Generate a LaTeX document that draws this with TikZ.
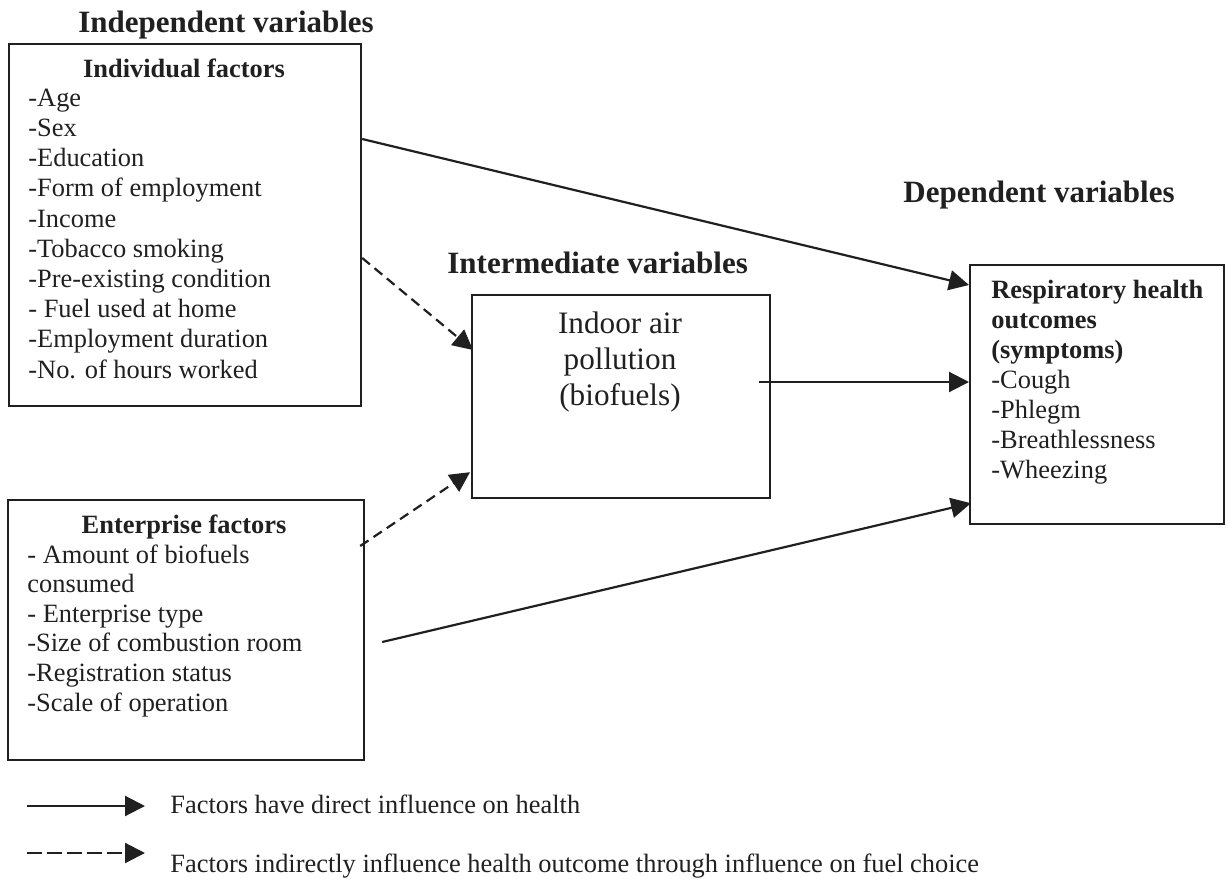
\documentclass[tikz,border=0pt]{standalone}
\usepackage{fontspec}
\setmainfont{Liberation Serif}
\usetikzlibrary{arrows.meta,calc}
\definecolor{ink}{HTML}{202020}
\begin{document}
\begin{tikzpicture}[x=0.5pt,y=-0.5pt,
  box/.style={draw=ink,line width=1.1pt,inner sep=0pt,anchor=north west},
  body/.style={font=\fontsize{13.2}{15.1}\selectfont,text=ink,inner sep=0pt,align=left,anchor=base west},
  head/.style={font=\fontsize{15.5}{18}\selectfont\bfseries,text=ink,inner sep=0pt,anchor=base west},
  conn/.style={draw=ink,line width=1.1pt,-{Triangle[length=10pt,width=10pt]}},
  indirect/.style={conn,dash pattern=on 5pt off 3pt}]
\useasboundingbox[fill=white] (0,0) rectangle (1228,879);

% headers
\node[head] (hind) at (78,32) {Independent variables};
\node[head] (hint) at (447,273) {Intermediate variables};
\node[head] (hdep) at (903,202) {Dependent variables};

% boxes
\node[box,minimum width=176pt,minimum height=181pt] (ind) at (8,43) {};
\node[box,minimum width=178pt,minimum height=130pt] (ent) at (7,499) {};
\node[box,minimum width=149pt,minimum height=101.5pt] (air) at (471,294) {};
\node[box,minimum width=127pt,minimum height=129.5pt] (resp) at (969,264) {};

% box texts (multi-line nodes are placed by the baseline of their last line)
\node[body,anchor=base,font=\fontsize{13.2}{15.1}\selectfont\bfseries] (tind) at (184,77) {Individual factors};
\node[body] (lind) at (28,378) {-Age\\-Sex\\-Education\\-Form of employment\\-Income\\-Tobacco smoking\\-Pre-existing condition\\- Fuel used at home\\-Employment duration\\-No. of hours worked};
\node[body,anchor=base,font=\fontsize{13.2}{15.1}\selectfont\bfseries] (tent) at (184,533) {Enterprise factors};
\node[body,font=\fontsize{13.2}{14.8}\selectfont] (lent) at (27,711) {- Amount of biofuels\\consumed\\- Enterprise type\\-Size of combustion room\\-Registration status\\-Scale of operation};
\node[body,anchor=base,align=center,font=\fontsize{15.6}{18}\selectfont] (tair) at (620,405) {Indoor air\\pollution\\(biofuels)};
\node[body,font=\fontsize{13.2}{15}\selectfont] (tresp) at (991,478) {\textbf{Respiratory health}\\\textbf{outcomes}\\\textbf{(symptoms)}\\-Cough\\-Phlegm\\-Breathlessness\\-Wheezing};

% connectors
\draw[conn] ($(ind.north east)+(0,96)$) -- ($(resp.north west)+(0,21)$);
\draw[indirect] ($(ind.north east)+(0,215)$) -- ($(air.north west)+(2,56)$);
\draw[indirect] ($(ent.north east)+(-5,47)$) -- ($(air.south west)+(-1,-27)$);
\draw[conn] ($(air.north east)+(-12,88)$) -- ($(resp.north west)+(0,118)$);
\draw[conn] ($(ent.north east)+(17,143)$) -- ($(resp.south west)+(2,-22)$);

% legend
\coordinate (l1a) at (27,806);
\coordinate (l1b) at (145,806);
\coordinate (l2a) at (27,853);
\coordinate (l2b) at (145,853);
\draw[conn] (l1a) -- (l1b);
\draw[indirect,dash pattern=on 7.5pt off 2.5pt] (l2a) -- (l2b);
\node[body] (leg1) at (170,813) {Factors have direct influence on health};
\node[body] (leg2) at (170,872) {Factors indirectly influence health outcome through influence on fuel choice};
\end{tikzpicture}
\end{document}
